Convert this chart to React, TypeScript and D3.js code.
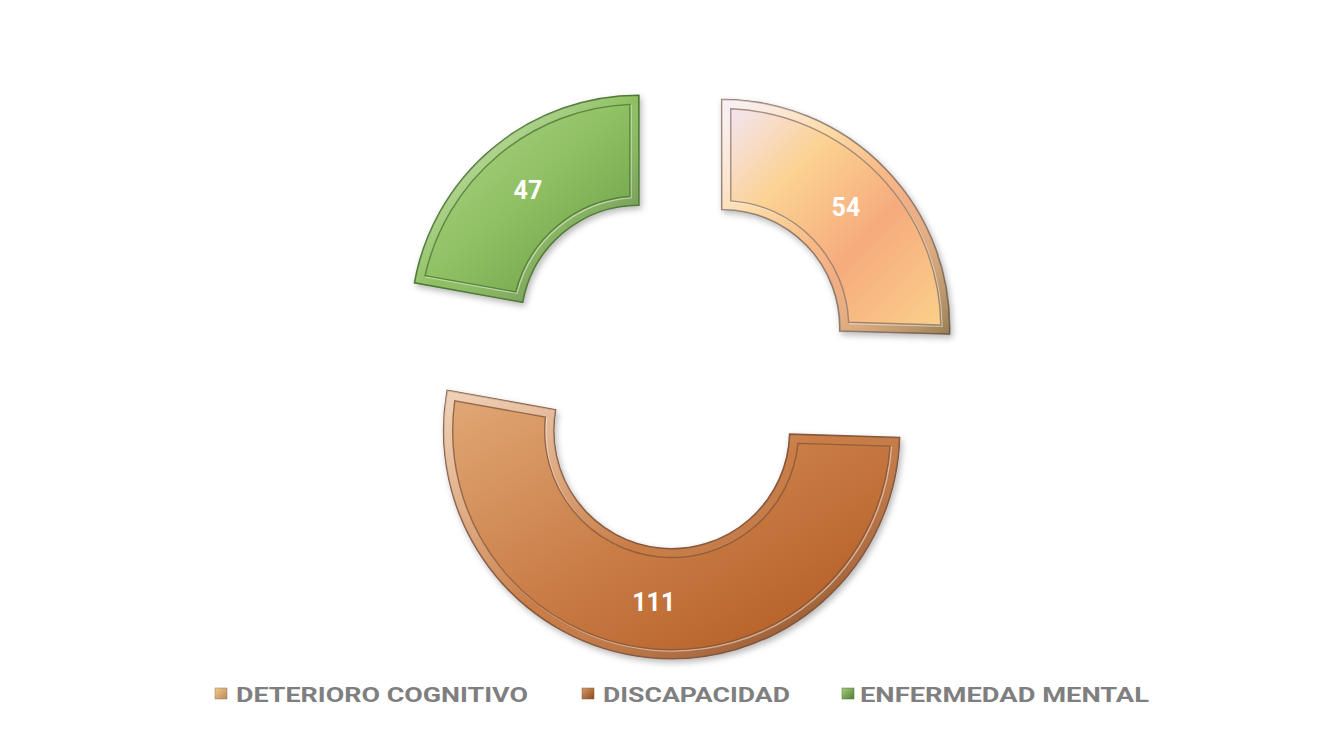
import React from "react";
import * as d3 from "d3";

const categories = ["DETERIORO COGNITIVO", "DISCAPACIDAD", "ENFERMEDAD MENTAL"];
const values = [54, 111, 47];

const W = 1343;
const H = 731;

type Style = { stops: [number, string][]; edge: string; marker: [string, string] };
const styles: Style[] = [
  {
    stops: [
      [0, "#f4e4f2"],
      [0.3, "#fbd291"],
      [0.62, "#f6ab7d"],
      [1, "#fbd08a"],
    ],
    edge: "#8f7868",
    marker: ["#f6c98a", "#b98a5a"],
  },
  {
    stops: [
      [0, "#e0a775"],
      [0.5, "#c97c45"],
      [1, "#b0581f"],
    ],
    edge: "#84553a",
    marker: ["#d99b68", "#8a4a20"],
  },
  {
    stops: [
      [0, "#b0d688"],
      [0.5, "#8fbf63"],
      [1, "#67993f"],
    ],
    edge: "#4a7830",
    marker: ["#a6d07c", "#4f7e33"],
  },
];

const legendLayout = [
  { mx: 215, tx: 236, tw: 292 },
  { mx: 582, tx: 603, tw: 187 },
  { mx: 842, tx: 860, tw: 289 },
];

export default function App() {
  const cx = 678;
  const cy = 370;
  const explode = 61;
  const R = 228;
  const r = 118;
  const bevel = 9;

  const pie = d3
    .pie<number>()
    .sort(null)
    .value((d) => d)
    .startAngle(0)
    .endAngle(2 * Math.PI);
  const arcs = pie(values);

  const outerArc = d3.arc<d3.PieArcDatum<number>>().innerRadius(r).outerRadius(R);
  const pr = (R + r) / 2;
  const faceArc = d3
    .arc<d3.PieArcDatum<number>>()
    .innerRadius(r + bevel)
    .outerRadius(R - bevel)
    .padRadius(pr)
    .padAngle((2 * bevel) / pr);
  const labelArc = d3
    .arc<d3.PieArcDatum<number>>()
    .innerRadius((r + R) / 2)
    .outerRadius((r + R) / 2);

  return (
    <svg
      width={W}
      height={H}
      style={{ position: "absolute", left: 0, top: 0, display: "block", background: "#ffffff" }}
    >
      <defs>
        <filter id="shadow" x="-20%" y="-20%" width="140%" height="140%">
          <feDropShadow dx="2" dy="3" stdDeviation="3" floodColor="#000" floodOpacity="0.28" />
        </filter>
        {styles.map((s, i) => (
          <linearGradient key={i} id={`face${i}`} x1="0" y1="0" x2="1" y2="1">
            {s.stops.map(([o, c], j) => (
              <stop key={j} offset={o} stopColor={c} />
            ))}
          </linearGradient>
        ))}
        <linearGradient id="rimLight" x1="0" y1="0" x2="1" y2="1">
          <stop offset="0" stopColor="#ffffff" stopOpacity="0.5" />
          <stop offset="0.5" stopColor="#ffffff" stopOpacity="0.0" />
          <stop offset="1" stopColor="#000000" stopOpacity="0.4" />
        </linearGradient>
        {styles.map((s, i) => (
          <linearGradient key={i} id={`mk${i}`} x1="0" y1="0" x2="1" y2="1">
            <stop offset="0" stopColor={s.marker[0]} />
            <stop offset="1" stopColor={s.marker[1]} />
          </linearGradient>
        ))}
      </defs>
      {arcs.map((a, i) => {
        const mid = (a.startAngle + a.endAngle) / 2;
        const dx = Math.sin(mid) * explode;
        const dy = -Math.cos(mid) * explode;
        const [lx, ly] = labelArc.centroid(a);
        const s = styles[i];
        return (
          <g key={i} transform={`translate(${cx + dx},${cy + dy})`}>
            <path d={outerArc(a) || ""} fill={`url(#face${i})`} stroke={s.edge} strokeWidth={1.6} filter="url(#shadow)" />
            <path d={outerArc(a) || ""} fill="url(#rimLight)" />
            <path d={faceArc(a) || ""} fill="none" stroke="#ffffff" strokeOpacity={0.45} strokeWidth={1.5} transform="translate(1.2,1.2)" />
            <path d={faceArc(a) || ""} fill={`url(#face${i})`} stroke={s.edge} strokeOpacity={0.8} strokeWidth={1.4} />
            <text
              x={lx}
              y={ly}
              textAnchor="middle"
              dominantBaseline="central"
              fill="#ffffff"
              fontFamily="Roboto, 'Open Sans', sans-serif"
              fontWeight="bold"
              fontSize={25}
            >
              {values[i]}
            </text>
          </g>
        );
      })}
      {categories.map((c, i) => {
        const L = legendLayout[i];
        return (
          <g key={c}>
            <rect x={L.mx} y={688} width={12} height={11} fill={`url(#mk${i})`} stroke={styles[i].edge} strokeWidth={0.5} />
            <text
              x={L.tx}
              y={702}
              fill="#7f7f7f"
              fontFamily="'Liberation Sans Narrow', Roboto, 'Liberation Sans', sans-serif"
              fontWeight="bold"
              fontSize={21}
              textLength={L.tw}
              lengthAdjust="spacingAndGlyphs"
            >
              {c}
            </text>
          </g>
        );
      })}
    </svg>
  );
}
